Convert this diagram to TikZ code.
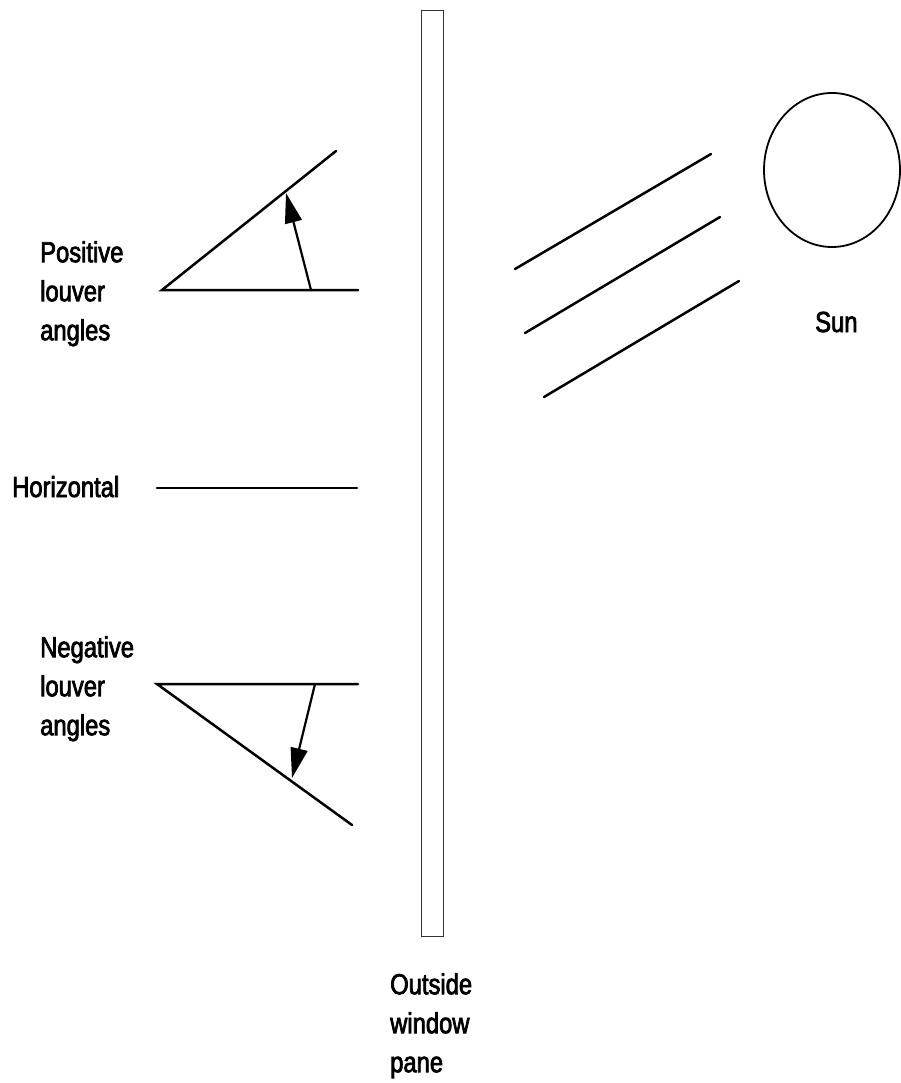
\documentclass[tikz,border=0pt]{standalone}
\usepackage{fontspec}
\newfontfamily\labfont[FakeStretch=0.82,FakeBold=2.5]{Liberation Sans}
\usetikzlibrary{arrows.meta,shapes.geometric}
\tikzset{
  lab/.style={font=\labfont\fontsize{29}{39}\selectfont, inner sep=0pt, anchor=base west, align=left},
  stack/.style={lab, anchor=north west},
  louver/.style={line width=2.5pt, line cap=round},
  ray/.style={line width=2.5pt, line cap=round},
  angarrow/.style={line width=2.2pt, -{Triangle[length=30pt,width=17pt]}},
  pane/.style={draw=black!80, line width=1pt},
  sun/.style={draw, line width=1.8pt}
}
\begin{document}
\begin{tikzpicture}[x=1pt,y=-1pt]
\useasboundingbox (0,0) rectangle (900,1083);
% window pane
\node[pane, minimum width=22pt, minimum height=925pt, inner sep=0pt] (window) at (432,473.5) {};
% positive louver
\coordinate (p0) at (162,290);
\coordinate (p1) at (358,290);
\coordinate (p2) at (336,151);
\coordinate (pa) at (311,290);
\coordinate (pb) at (286,193);
\draw[louver] (p1) -- (p0) -- (p2);
\draw[angarrow] (pa) -- (pb);
% horizontal louver
\coordinate (h0) at (157,488);
\coordinate (h1) at (357,488);
\draw[louver] (h0) -- (h1);
% negative louver
\coordinate (n0) at (157,684);
\coordinate (n1) at (358,684);
\coordinate (n2) at (352,825);
\coordinate (na) at (315,684);
\coordinate (nb) at (292,778);
\draw[louver] (n1) -- (n0) -- (n2);
\draw[angarrow] (na) -- (nb);
% rays
\coordinate (r1a) at (515,269); \coordinate (r1b) at (711,154);
\coordinate (r2a) at (525,333); \coordinate (r2b) at (720,217);
\coordinate (r3a) at (544,397); \coordinate (r3b) at (739,281);
\draw[ray] (r1a) -- (r1b);
\draw[ray] (r2a) -- (r2b);
\draw[ray] (r3a) -- (r3b);
% sun
\node[sun, ellipse, minimum width=136pt, minimum height=154pt, inner sep=0pt] (sunshape) at (832,170) {};
% labels
\node[stack] (poslab) at (40,241) {Positive\\louver\\angles};
\node[lab] (horlab) at (12,497) {Horizontal};
\node[stack] (neglab) at (40,636) {Negative\\louver\\angles};
\node[lab] (sunlab) at (815,332) {Sun};
\node[stack] (panelab) at (390,973) {Outside\\window\\pane};
\end{tikzpicture}
\end{document}
